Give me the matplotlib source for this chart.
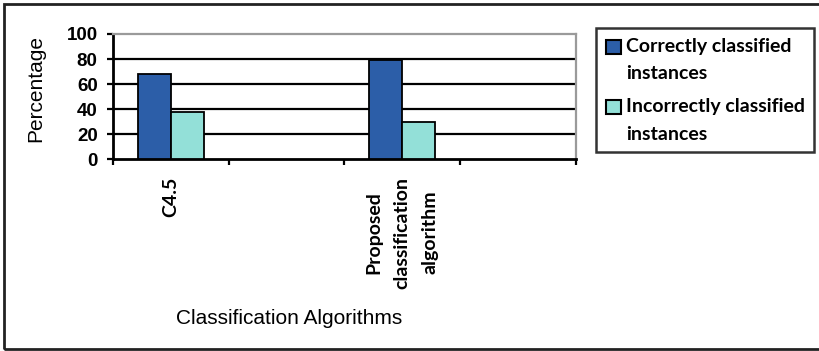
import numpy as np
import matplotlib
matplotlib.use("Agg")
import matplotlib.pyplot as plt
from matplotlib.patches import Patch, Rectangle
from matplotlib.legend_handler import HandlerPatch

categories = ["C4.5", "", "Proposed\nclassification\nalgorithm", ""]
correct = [68, np.nan, 79, np.nan]
incorrect = [37.5, np.nan, 29.5, np.nan]
series_names = ["Correctly classified\ninstances", "Incorrectly classified\ninstances"]
yticks = [0, 20, 40, 60, 80, 100]

BLUE = "#2C5EA8"
CYAN = "#93E0D8"
W, H = 820, 351
LEG_FS = 14
CAT_FS = 14

fig = plt.figure(figsize=(W / 100, H / 100), dpi=100)
ax = fig.add_axes([113 / W, 1 - 159.3 / H, (575.7 - 113) / W, (159.3 - 34) / H])

x = np.arange(len(categories))
bw = 0.284
ax.bar(x - bw / 2, correct, bw, color=BLUE, edgecolor="black", linewidth=1.3, zorder=3)
ax.bar(x + bw / 2, incorrect, bw, color=CYAN, edgecolor="black", linewidth=1.3, zorder=3)

ax.set_xlim(-0.5, len(categories) - 0.5)
ax.set_ylim(0, 100)
ax.set_yticks(yticks)
ax.set_yticklabels([str(v) for v in yticks], fontfamily="Liberation Sans",
                   fontweight="bold", fontsize=13.5)
for v in yticks[1:-1]:
    ax.axhline(v, color="black", linewidth=1.6, zorder=1)

ax.set_xticks(np.arange(len(categories) + 1) - 0.5)
ax.set_xticklabels([])
ax.set_xticks(x, minor=True)
ax.set_xticklabels(categories, minor=True, rotation=90, ha="center", va="top",
                   fontfamily="Lato", fontweight="bold", fontsize=CAT_FS, linespacing=1.8)
ax.tick_params(axis="x", which="major", length=4.5, width=1.6, direction="out", color="black")
ax.tick_params(axis="x", which="minor", length=0, pad=12.5)
ax.tick_params(axis="y", length=4.5, width=1.6, direction="out", pad=6.5)

for s in ["left", "bottom"]:
    ax.spines[s].set_color("black")
    ax.spines[s].set_linewidth(2)
for s in ["top", "right"]:
    ax.spines[s].set_color("#9A9A9A")
    ax.spines[s].set_linewidth(1.6)

fig.text(35.5 / W, 1 - 88.5 / H, "Percentage", rotation=90, ha="center", va="center",
         fontfamily="Liberation Sans", fontsize=15)
fig.text(289.4 / W, 1 - 324 / H, "Classification Algorithms", ha="center", va="baseline",
         fontfamily="Liberation Sans", fontsize=15)

LINE_SHIFT_PT = 13.5 * 72 / 100  # move the key square up to the first text line


def top_square(legend, orig_handle, xdescent, ydescent, width, height, fontsize):
    return Rectangle((-xdescent, -ydescent + LINE_SHIFT_PT), width, height)


handles = [Patch(facecolor=BLUE, edgecolor="black", linewidth=1.5),
           Patch(facecolor=CYAN, edgecolor="black", linewidth=1.5)]
sq = 15 / 100 * 72 / LEG_FS
leg = fig.legend(handles, series_names, loc="upper left",
                 bbox_to_anchor=(596 / W, 1 - 28 / H), bbox_transform=fig.transFigure,
                 borderaxespad=0, frameon=True, fancybox=False, edgecolor="black",
                 borderpad=0.5, handlelength=sq, handleheight=sq, handletextpad=0.26,
                 labelspacing=0.8,
                 handler_map={Patch: HandlerPatch(patch_func=top_square)},
                 prop={"family": "Lato", "weight": "bold", "size": LEG_FS})
leg.get_frame().set_linewidth(1.8)
for t in leg.get_texts():
    t.set_linespacing(1.76)

border = Rectangle((4.5 / W, 1 - 349 / H), (830 - 4.5) / W, (349 - 4) / H,
                   transform=fig.transFigure, fill=False, edgecolor="#222222",
                   linewidth=2, clip_on=False)
fig.patches.append(border)

fig.savefig("out.png", dpi=100)
